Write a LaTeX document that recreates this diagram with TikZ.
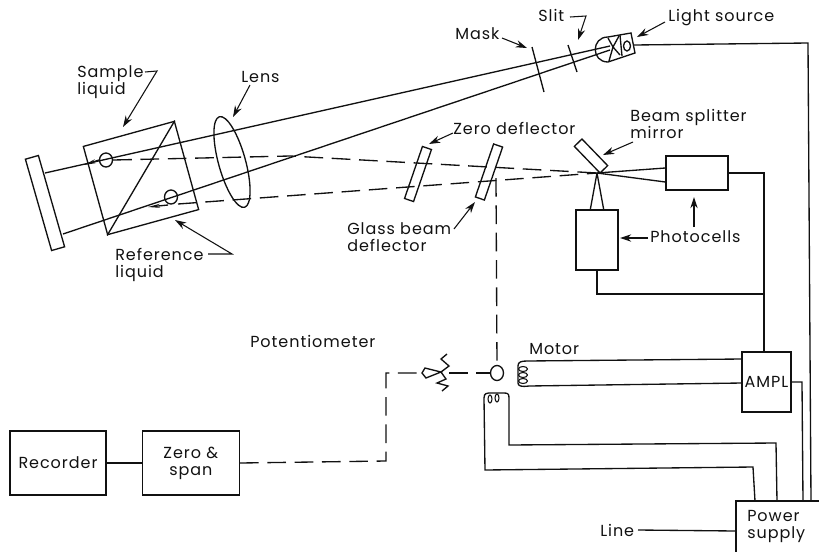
\documentclass[tikz,border=0pt]{standalone}
\usepackage{xcolor}
\usepackage{fontspec}
\usepackage{tikz}
\usetikzlibrary{
  arrows.meta,
  shapes.geometric,
  positioning
}
\newfontfamily\diagfont[LetterSpace=6]{Poppins}
\definecolor{inkBlack}{HTML}{111111}
\tikzset{
  part/.style={draw=inkBlack, line width=1pt, inner sep=0pt},
  lbl/.style={font=\diagfont\fontsize{12}{12.75}\selectfont, text=inkBlack, inner sep=0pt, anchor=west, align=left},
  boxlbl/.style={font=\diagfont\fontsize{12}{12.75}\selectfont, text=inkBlack},
  wire/.style={draw=inkBlack, line width=1pt},
  beam/.style={wire},
  dashbeam/.style={wire, dash pattern=on 14pt off 6.5pt},
  callout/.style={draw=inkBlack, line width=.8pt, -{Stealth[length=8.5pt,width=5.5pt]}},
  wedge/.style={draw=inkBlack, line width=1pt, -{Stealth[length=9pt,width=3pt]}}
}
\begin{document}
\begin{tikzpicture}[x=.75pt, y=-.75pt, node distance=26.25pt]
  \useasboundingbox (0,0) rectangle (819,551);
  % sample end
  \node[part, minimum width=13.5*.75pt, minimum height=95*.75pt, rotate=16] (plate) at (45,203) {};
  \node[part, minimum width=94.4*.75pt, minimum height=91.5*.75pt, rotate=15.4] (cuvette) at (141,178) {};
  \draw[wire] (cuvette.north east) -- (cuvette.south west);
  \node[part, ellipse, minimum width=13*.75pt, minimum height=14*.75pt] (cellup) at (106,160) {};
  \node[part, ellipse, minimum width=13*.75pt, minimum height=14*.75pt] (celldown) at (171,197) {};
  \node[part, ellipse, minimum width=27*.75pt, minimum height=94*.75pt, rotate=15.5] (lens) at (232,162) {};
  % deflectors and mirror
  \node[part, minimum width=9.5*.75pt, minimum height=55*.75pt, rotate=-19] (zerodefl) at (418,174) {};
  \node[part, minimum width=9.5*.75pt, minimum height=56*.75pt, rotate=-19] (glassdefl) at (489,172) {};
  \node[part, minimum width=10.6*.75pt, minimum height=37*.75pt, rotate=44] (mirror) at (591,156) {};
  % photocells
  \node[part, minimum width=62*.75pt, minimum height=34*.75pt] (pcright) at (697,173) {};
  \node[part, minimum width=42*.75pt, minimum height=60*.75pt] (pclow) at (597,240) {};
  % electronics
  \node[part, boxlbl, minimum width=49*.75pt, minimum height=60*.75pt] (ampl) at (766.5,382) {\raisebox{-2pt}{AMPL}};
  \node[part, boxlbl, minimum width=96*.75pt, minimum height=64*.75pt] (recorder) at (58,463) {Recorder\hspace{5pt}};
  \node[part, boxlbl, minimum width=97*.75pt, minimum height=64*.75pt, right=of recorder, align=center] (zerospan) {Zero \&\\span};
  \node[part, minimum width=94*.75pt, minimum height=60*.75pt] (power) at (783,531) {};
  \node[part, ellipse, minimum width=13*.75pt, minimum height=15*.75pt] (rotor) at (497,373) {};
  % beam points
  \coordinate (focus) at (597,173);
  \coordinate (lampup) at (610,46);
  \coordinate (lamplow) at (610,50);
  \coordinate (plateup) at (45,173);
  \coordinate (platelow) at (63,234);
  \coordinate (bend) at (290,156);
  \coordinate (startlow) at (178,204);
  \coordinate (tap) at (496,178);
  % solid beams
  \draw[beam] (plateup) -- (lampup);
  \draw[beam] (platelow) -- (lamplow);
  \draw[wedge] (cellup.west) -- (84,165);
  \draw[wedge] (168,205) -- (148,207);
  \draw[beam] (focus) -- ([yshift=3.75pt]pcright.west);
  \draw[beam] (focus) -- ([yshift=-6.75pt]pcright.west);
  \draw[beam] (focus) -- ([xshift=-5pt]pclow.north);
  \draw[beam] (focus) -- ([xshift=5pt]pclow.north);
  % dashed beams
  \draw[dashbeam] (cellup.east) -- (bend) -- (focus);
  \draw[dashbeam] (startlow) -- (focus);
  \draw[dashbeam] (tap) -- (rotor.north);
  % mask and slit
  \draw[wire] (532,47) -- (544,92);
  \draw[wire] (568,45) -- (577,72);
  % light source
  \draw[wire] (631,33) -- (608,37) .. controls (591,37) and (591,62) .. (608,62) -- (635,53) -- cycle;
  \draw[wire] (620,35) -- (622,56);
  \draw[wire] (627,46) ellipse (3.5 and 5);
  \draw[wire] (613,47) -- (608,38) (613,47) -- (619,36) (613,47) -- (620,55) (613,47) -- (609,61);
  % wiring
  \coordinate (lampwire) at (634,45);
  \coordinate (amptop) at (764,352);
  \coordinate (ampjoin) at (764,294);
  \draw[wire] (lampwire) -- (808,43) -- (811,501);
  \draw[wire] (pcright.east) -| (amptop);
  \draw[wire] (pclow.south) |- (ampjoin);
  \draw[wire] (791,382) -- (802,382) -- (803,501);
  \draw[wire] (742,359) -- (527,361) .. controls (521,361) and (518,362) .. (518,366) -- (518,383) .. controls (518,386) and (521,387) .. (529,386) -- (742,383);
  \draw[wire] (755,501) -- (753,467) -- (485,470) -- (484,398) .. controls (484,393) and (487,393) .. (491,393) -- (504,393) .. controls (508,393) and (509,394) .. (509,398) -- (509,445) -- (776,443) -- (777,501);
  \draw[wire, line width=.8pt] (523,369) ellipse (4.5 and 2.5);
  \draw[wire, line width=.8pt] (523,375) ellipse (4.5 and 2.5);
  \draw[wire, line width=.8pt] (523,381) ellipse (4.5 and 2.5);
  \draw[wire, line width=.8pt] (490,399) ellipse (2 and 4);
  \draw[wire, line width=.8pt] (497,398) ellipse (2 and 4);
  % potentiometer
  \coordinate (wiper) at (449,373);
  \coordinate (tip) at (422,373);
  \draw[wire] (447,354) -- (441,359) -- (449,366) -- (441,372) -- (446,379) -- (437,383) -- (448,386) -- (442,391);
  \draw[wire] (tip) -- (425,368) -- (441,372) -- (426,378) -- cycle;
  \draw[dashbeam] (wiper) -- (rotor.west);
  \draw[dashbeam] (zerospan.east) -- (386,461) -- (386,373) -- (tip);
  \draw[wire] (recorder.east) -- (zerospan.west);
  % line input
  \coordinate (linestart) at (638,530);
  \draw[wire] (linestart) -- (power.west);
  % labels
  \node[lbl] (samplelbl) at (77,82) {Sample\\liquid};
  \node[lbl] (lenslbl) at (241,77) {Lens};
  \node[lbl] (reflbl) at (115,265) {Reference\\liquid};
  \node[lbl] (masklbl) at (455,34) {Mask};
  \node[lbl] (slitlbl) at (538,15) {Slit};
  \node[lbl] (sourcelbl) at (668,18) {Light source};
  \node[lbl] (zerolbl) at (453,128) {Zero deflector};
  \node[lbl] (splitlbl) at (630,124) {Beam splitter\\mirror};
  \node[lbl] (glasslbl) at (347,237) {Glass beam\\deflector};
  \node[lbl] (pclbl) at (650,237) {Photocells};
  \node[lbl] (potlbl) at (250,341) {Potentiometer};
  \node[lbl] (motorlbl) at (529,349) {Motor};
  \node[lbl] (linelbl) at (600,530) {Line};
  \node[lbl] (powerlbl) at (747,526) {Power\\supply};
  % callouts
  \draw[callout] (145,72) -- (157,71) -- (123,127);
  \draw[callout] (250,85) -- (233,117);
  \draw[callout] (208,254) -- (232,254) -- (175,220);
  \draw[callout] (502,38) -- (527,48);
  \draw[callout] (570,17) -- (586,16) -- (578,40);
  \draw[callout] (665,22) -- (637,37);
  \draw[callout] (453,133) -- (429,144);
  \draw[callout] (633,142) -- (603,155);
  \draw[callout] (454,229) -- (475,202);
  \draw[callout] (648,238) -- (620,238);
  \draw[callout] (694,227) -- (694,197);
\end{tikzpicture}
\end{document}
